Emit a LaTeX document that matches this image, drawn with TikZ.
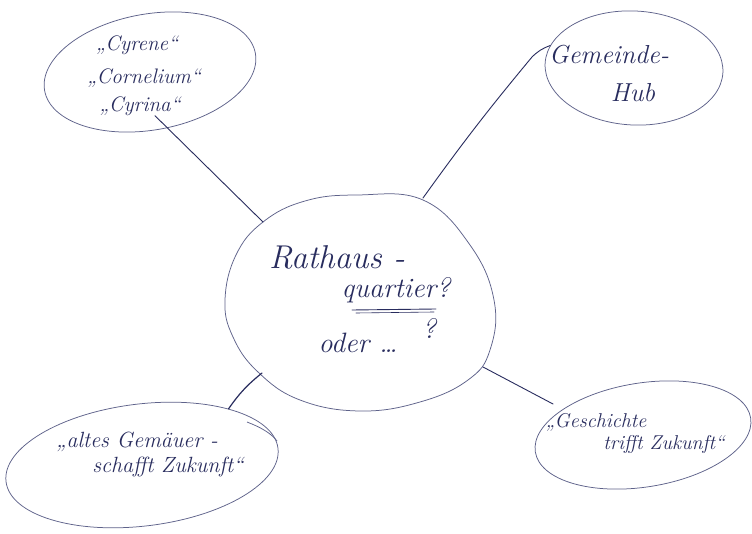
\documentclass[tikz,border=0pt]{standalone}
\usetikzlibrary{shapes.geometric}
\definecolor{ink}{HTML}{282C5E}
\definecolor{pencil}{HTML}{5E628A}
\begin{document}
\begin{tikzpicture}[x=1pt,y=-1pt,
  bubble/.style={ellipse,draw=pencil,line width=0.75pt,inner sep=0pt},
  hand/.style={text=ink,inner sep=0pt,font=\itshape\fontsize{#1}{#1}\selectfont},
  hand/.default=20,
  link/.style={draw=ink,line width=0.9pt,line cap=round}]
\fill[white] (0,0) rectangle (752,534);
\useasboundingbox (0,0) rectangle (752,534);

% outer idea bubbles
\node[bubble,minimum width=214pt,minimum height=116pt,rotate=10] (names) at (150,72) {};
\node[bubble,minimum width=178pt,minimum height=114pt,rotate=-3] (hub) at (634,68) {};
\node[bubble,minimum width=274pt,minimum height=122pt,rotate=7] (motto) at (142,465) {};
\node[bubble,minimum width=218pt,minimum height=104pt,rotate=9] (story) at (643,435) {};

% second pencil stroke on the upper right of the motto bubble
\draw[pencil,line width=0.75pt] (247,422) .. controls (260,427) and (271,433) .. (277,441);

% central bubble, drawn free hand
\draw[pencil,line width=0.75pt] plot[smooth cycle,tension=0.7] coordinates {
  (357,195) (423,200) (470,245) (494,300) (490,350) (468,380) (420,402)
  (360,411) (300,400) (258,372) (233,337) (225,300) (236,255) (263,222)
  (305,201)};
\coordinate (core-nw) at (263,222);
\coordinate (core-ne) at (423,198);
\coordinate (core-sw) at (262,373);
\coordinate (core-se) at (483,367);
\coordinate (hub-hook) at (532,57);
\coordinate (story-tip) at (553,404);

% texts
\node[hand=21] (cyrene) at (137,45) {„Cyrene“};
\node[hand=21] (cornelium) at (144,78) {„Cornelium“};
\node[hand=21] (cyrina) at (140,106) {„Cyrina“};
\node[hand=26] (hubtop) at (609,55) {Gemeinde-};
\node[hand=26] (hubbot) at (633,93) {Hub};
\node[hand=33] (rat1) at (337,257) {Rathaus -};
\node[hand=28] (rat2) at (396,290) {quartier?};
\node[hand=28] (rat3) at (358,343) {oder \dots};
\node[hand=28] (rat4) at (429,328) {?};
\node[hand=22] (motto1) at (137,442) {„altes Gemäuer -};
\node[hand=22] (motto2) at (168,467) {schafft Zukunft“};
\node[hand=20] (story1) at (596,422) {„Geschichte};
\node[hand=20] (story2) at (664,444) {trifft Zukunft“};

% underline of "quartier?"
\draw[link] (352,310) -- (436,309);
\draw[link,line width=0.6pt] (356,313) -- (434,312);

% connectors
\draw[link] ([xshift=15pt]cyrina.south) -- (core-nw);
\draw[link] (core-ne) to[bend left=2] (hub-hook) to[bend left=12] (hub.168);
\draw[link,line width=1.2pt] (core-sw) to[bend right=8] (motto.26);
\draw[link] (core-se) -- (story-tip);
\end{tikzpicture}
\end{document}
